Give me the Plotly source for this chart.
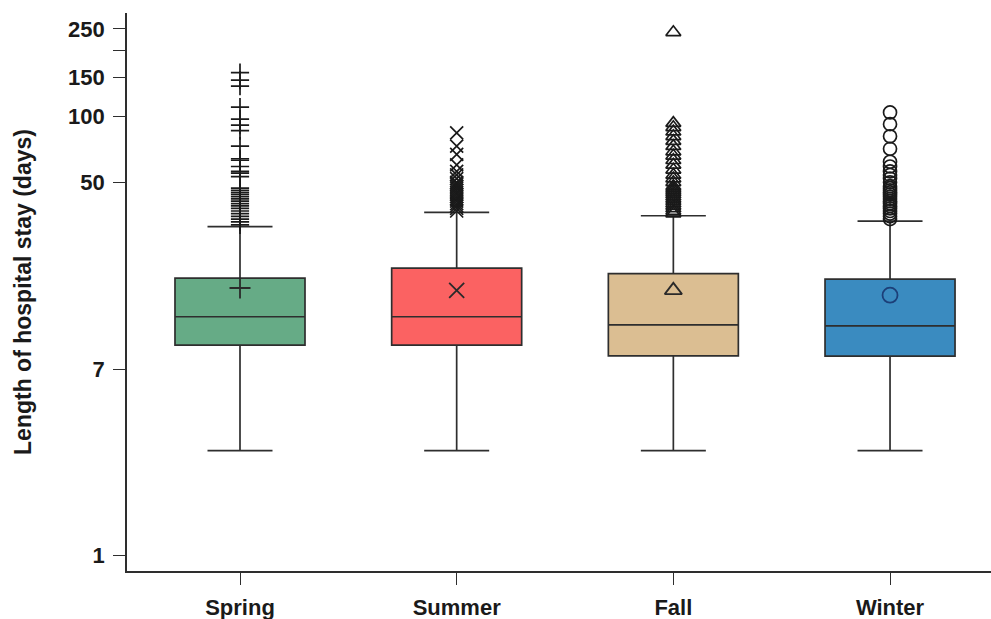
import plotly.graph_objects as go

categories = ["Spring", "Summer", "Fall", "Winter"]
lower_fence = [3.0, 3.0, 3.0, 3.0]
q1 = [9.06, 9.06, 8.1, 8.07]
median = [12.2, 12.2, 11.2, 11.1]
q3 = [18.3, 20.3, 19.2, 18.1]
upper_fence = [31.4, 36.5, 35.2, 33.3]
means = [16.5, 16.1, 16.1, 15.3]

outliers_spring = [158, 146, 137, 110, 97, 91, 86, 73, 64, 63, 59, 56, 55, 53,
                   47, 46, 45, 44, 43, 42, 41, 40, 39, 38, 37, 36, 35, 34, 33, 32]
outliers_summer = [84, 73, 67, 60, 56, 54, 52, 50, 49, 48, 47, 46, 45, 44, 43,
                   42, 41, 40, 39, 38, 37]
outliers_fall = [241, 93, 89, 85, 81, 77, 73, 69, 66, 63, 60, 57, 54, 52, 50,
                 48, 47, 46, 45, 44, 43, 42, 41, 40, 39, 38, 37, 36]
outliers_winter = [104, 92, 81, 71, 62, 59, 56, 54, 52, 50, 48, 47, 46, 45, 44,
                   43, 42, 41, 40, 39, 38, 37, 36, 35, 34]
outliers = [outliers_spring, outliers_summer, outliers_fall, outliers_winter]

y_tickvals = [1, 7, 50, 100, 150, 200, 250]
y_ticktext = ["1", "7", "50", "100", "150", "", "250"]

fills = ["#66ab86", "#fb6262", "#dbbe92", "#3a8bc0"]
symbols = ["cross-thin-open", "x-thin-open", "triangle-up-open", "circle-open"]
mean_colors = ["#2a2a2a", "#2a2a2a", "#2a2a2a", "#1c3f78"]
edge = "#2e2e2e"
FONT = "Liberation Sans"

fig = go.Figure()
for i, c in enumerate(categories):
    fig.add_trace(go.Box(
        x=[c], q1=[q1[i]], median=[median[i]], q3=[q3[i]],
        lowerfence=[lower_fence[i]], upperfence=[upper_fence[i]],
        fillcolor=fills[i], line=dict(color=edge, width=1.7),
        width=0.6, whiskerwidth=0.5, boxpoints=False,
        showlegend=False, hoverinfo="skip",
    ))
    fig.add_trace(go.Scatter(
        x=[c] * len(outliers[i]), y=outliers[i], mode="markers",
        marker=dict(symbol=symbols[i], size=13, color="#1a1a1a",
                    line=dict(color="#1a1a1a", width=1.7)),
        showlegend=False, hoverinfo="skip",
    ))
    fig.add_trace(go.Scatter(
        x=[c], y=[means[i]], mode="markers",
        marker=dict(symbol=symbols[i], size=15, color=mean_colors[i],
                    line=dict(color=mean_colors[i], width=1.8)),
        showlegend=False, hoverinfo="skip",
    ))

fig.update_layout(
    width=991, height=619,
    margin=dict(l=127, r=0, t=13, b=48),
    paper_bgcolor="white", plot_bgcolor="white",
    boxmode="overlay",
    font=dict(family=FONT, color="#1a1a1a"),
    xaxis=dict(
        type="category", categoryorder="array", categoryarray=categories,
        range=[-0.5215, 3.466], automargin=False,
        showline=True, linecolor=edge, linewidth=1.7,
        ticks="outside", ticklen=12, tickwidth=1.4, tickcolor=edge,
        ticklabelstandoff=4,
        tickfont=dict(family=FONT, size=22, color="#1a1a1a", weight="bold"),
        showgrid=False, zeroline=False,
    ),
    yaxis=dict(
        type="log", range=[-0.0716, 2.470], automargin=False,
        tickvals=y_tickvals, ticktext=y_ticktext,
        showline=True, linecolor=edge, linewidth=1.7,
        ticks="outside", ticklen=12, tickwidth=1.4, tickcolor=edge,
        ticklabelstandoff=4,
        tickfont=dict(family=FONT, size=22, color="#1a1a1a", weight="bold"),
        showgrid=False, zeroline=False,
        title=dict(text="Length of hospital stay (days)", standoff=30,
                   font=dict(family=FONT, size=23, color="#1a1a1a", weight="bold")),
    ),
)

fig.write_html(
    "out.html",
    config={"displayModeBar": False},
    post_script="document.body.style.margin='0';document.body.style.overflow='hidden';",
)
